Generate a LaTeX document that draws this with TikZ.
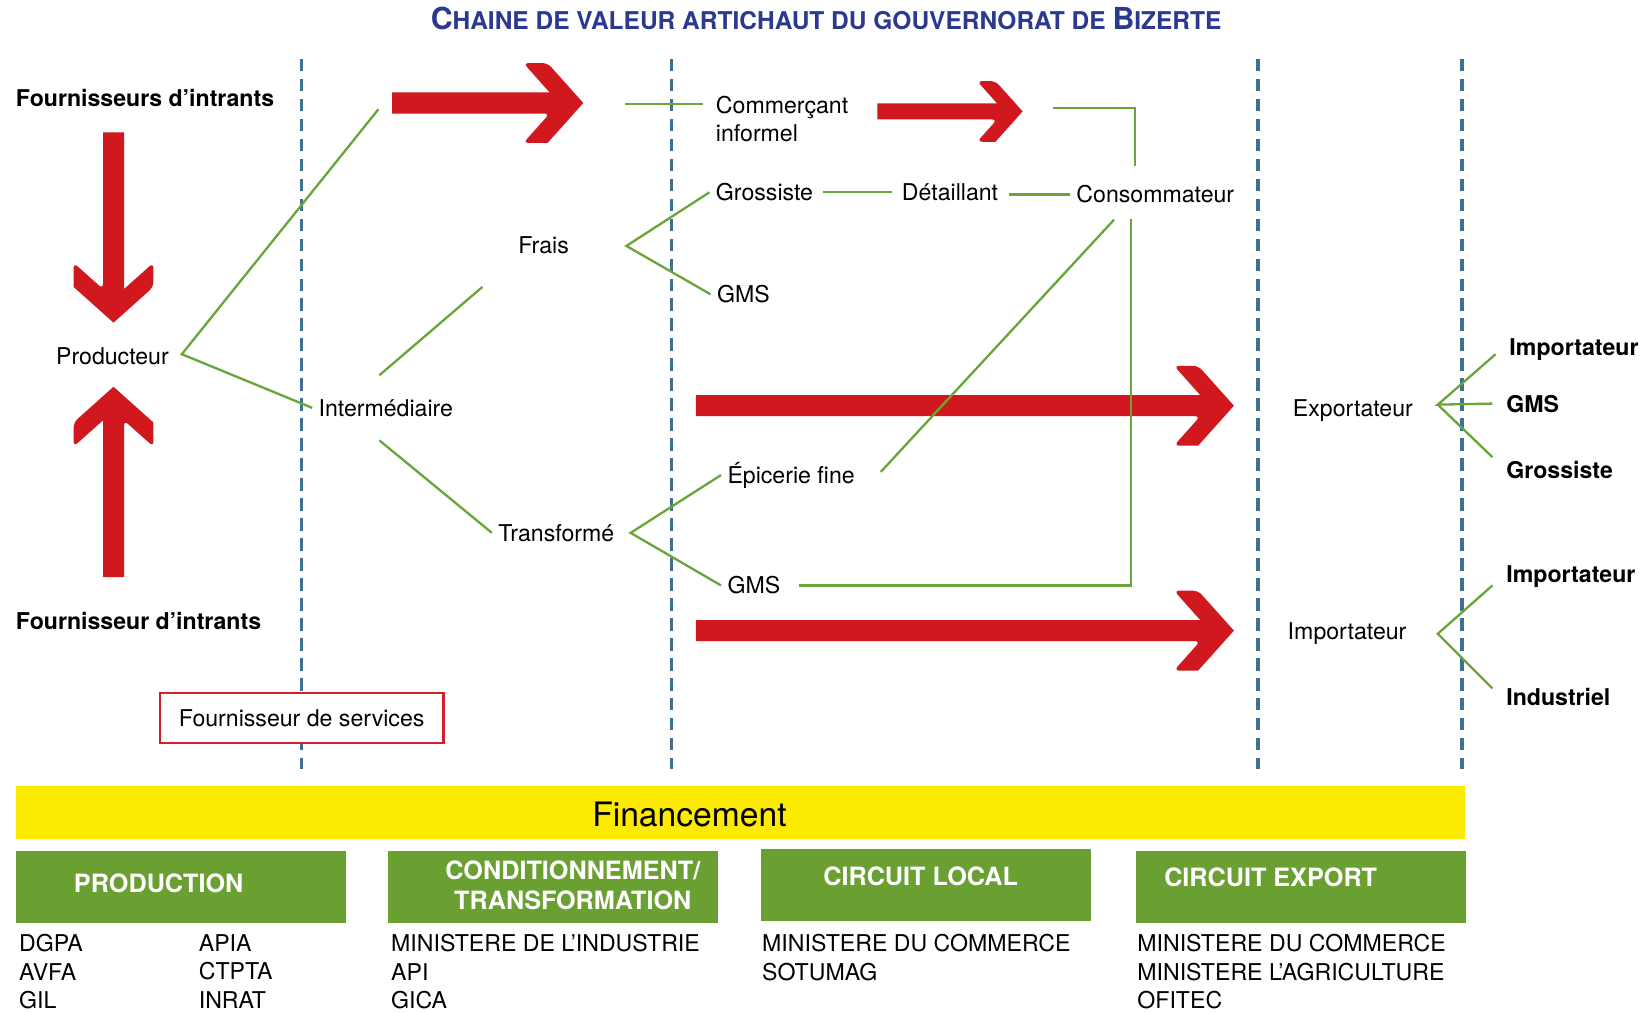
\documentclass[tikz,border=0pt]{standalone}
\usepackage{fontspec}
\setmainfont{TeX Gyre Heros}
\usepackage{graphicx}
\usetikzlibrary{positioning}
\definecolor{arrred}{RGB}{208,24,30}
\definecolor{lngreen}{RGB}{106,165,58}
\definecolor{boxgreen}{RGB}{106,159,50}
\definecolor{finyellow}{RGB}{252,234,0}
\definecolor{sepblue}{RGB}{63,112,144}
\definecolor{ttlblue}{RGB}{43,57,144}
\definecolor{svcred}{RGB}{208,32,46}

\begin{document}
\begin{tikzpicture}[x=1pt, y=-1pt,
	lbl/.style={anchor=west, inner sep=6pt, text height=16pt, text depth=0pt,
		font=\fontsize{22}{27}\selectfont},
	blbl/.style={lbl, inner xsep=13pt, font=\fontsize{22}{27}\selectfont\bfseries},
	grn/.style={draw=lngreen, line width=2.2pt},
	sepline/.style={draw=sepblue, line width=3.4pt, dash pattern=on 12pt off 7pt},
	gbox/.style={fill=boxgreen, minimum width=314pt, minimum height=68pt, inner sep=0pt},
	gtxt/.style={text=white, align=center, inner sep=0pt, font=\fontsize{24}{29}\selectfont\bfseries},
	lst/.style={anchor=north west, align=left, inner sep=0pt,
		font=\fontsize{22}{27}\selectfont},
	pics/redarrow/.style={code={
		\fill[arrred] (-#1,-10) -- (-32,-10) [rounded corners=5pt] -- (-57,-38) -- (-34,-38)
		[sharp corners] -- (0,0) -- (-34,38) [rounded corners=5pt] -- (-57,38) -- (-32,10)
		[sharp corners] -- (-#1,10) -- cycle;}}]
	\useasboundingbox (0,0) rectangle (1568,963);
	% title
	\node[anchor=base, text=ttlblue, font=\bfseries, inner sep=0pt] (title) at (786,28.5)
	{\fontsize{28.8}{30}\selectfont C\fontsize{23.3}{30}\selectfont HAINE DE VALEUR ARTICHAUT DU GOUVERNORAT DE
		\fontsize{28.8}{30}\selectfont B\fontsize{23.3}{30}\selectfont IZERTE};
	% separators
	\draw[sepline] (287,56) -- (287,732);
	\draw[sepline] (639,56) -- (639,732);
	\draw[sepline] (1197,56) -- (1197,732);
	\draw[sepline] (1391,56) -- (1391,732);
	\node[draw=svcred, line width=2pt, fill=white, minimum width=270pt, minimum height=48pt,
		font=\fontsize{22}{27}\selectfont] (serv) at (287,683) {Fournisseur de services};
	% big arrows
	\pic at (555,98) {redarrow=182};
	\pic[scale=0.76] at (973,106) {redarrow=182};
	\pic at (1174,386) {redarrow=512};
	\pic at (1174,600) {redarrow=512};
	\pic[rotate=-90] at (108,307) {redarrow=181};
	\pic[rotate=90] at (108,368) {redarrow=181};
	% labels
	\node[blbl] (fourn1) at (2,93) {Fournisseurs d’intrants};
	\node[blbl] (fourn2) at (2,591) {Fournisseur d’intrants};
	\node[lbl, anchor=center] (prod) at (107,339) {Producteur};
	\node[lbl] (intm) at (297,388) {Intermédiaire};
	\node[lbl] (frais) at (487,233) {Frais};
	\node[lbl, align=left] (comm) at (675,127) {Commerçant\\informel};
	\node[lbl] (gros) at (675,183) {Grossiste};
	\node[lbl] (det) at (852,183) {Détaillant};
	\node[lbl] (cons) at (1018,185) {Consommateur};
	\node[lbl] (gms1) at (676,280) {GMS};
	\node[lbl] (trans) at (468,507) {Transformé};
	\node[lbl] (epi) at (686,452) {Épicerie fine};
	\node[lbl] (gms2) at (686,557) {GMS};
	\node[lbl] (expo) at (1224,388) {Exportateur};
	\node[lbl] (impo) at (1219,600) {Importateur};
	\node[blbl] (rimp1) at (1423,330) {Importateur};
	\node[blbl] (rgms) at (1420,384) {GMS};
	\node[blbl] (rgros) at (1420,447) {Grossiste};
	\node[blbl] (rimp2) at (1420,546) {Importateur};
	\node[blbl] (rind) at (1420,663) {Industriel};
	% links
	\coordinate (pfork) at (173,337);
	\coordinate (topend) at (360,104);
	\coordinate (ifr1) at (361,357);
	\coordinate (ifr2) at (459,273);
	\coordinate (itr1) at (361,419);
	\coordinate (ffork) at (596,234);
	\coordinate (cstart) at (595,99);
	\coordinate (cend) at (669,99);
	\coordinate (tfork) at (600,507);
	\coordinate (c2a) at (1002,103);
	\coordinate (c2c) at (1080,158);
	\coordinate (cons1) at (1060,209);
	\coordinate (cons2) at (1076,208);
	\coordinate (epiend) at (838,449);
	\coordinate (efork) at (1368,385);
	\coordinate (mfork) at (1368,603);
	\draw[grn] (topend) -- (pfork) -- (intm.west);
	\draw[grn] (ifr1) -- (ifr2);
	\draw[grn] (itr1) -- (trans.west);
	\draw[grn] (gros.west) -- (ffork) -- (gms1.west);
	\draw[grn] (cstart) -- (cend);
	\draw[grn, shorten <=3pt, shorten >=3pt] (gros.east) -- (det.west);
	\draw[grn, shorten <=4pt] (cons.west -| det.east) -- (cons.west);
	\draw[grn] (c2a) -| (c2c);
	\draw[grn] (cons1) -- (epiend);
	\draw[grn, shorten >=12pt] (cons2) |- (gms2.east);
	\draw[grn] (epi.west) -- (tfork) -- (gms2.west);
	\draw[grn] ([yshift=-7pt]rimp1.west) -- (efork) -- (rgms.west);
	\draw[grn] (efork) -- ([yshift=12pt]rgros.west);
	\draw[grn] ([yshift=-11pt]rimp2.west) -- (mfork) -- ([yshift=8pt]rind.west);
	% financing and institutions
	\node[fill=finyellow, minimum width=1379pt, minimum height=50pt, inner sep=0pt] (fin) at (704.5,773) {};
	\node[font=\fontsize{32}{36}\selectfont, inner sep=0pt] (fintxt) at (656,775) {Financement};
	\node[gbox] (bprod) at (172,844) {};
	\node[gbox] (bcond) at (526,844) {};
	\node[gbox] (bloc) at (881,842) {};
	\node[gbox] (bexp) at (1237.5,844) {};
	\node[gtxt] (tprod) at (151,840) {PRODUCTION};
	\node[gtxt] (tcond) at (545,842.5) {CONDITIONNEMENT/\\TRANSFORMATION};
	\node[gtxt] (tloc) at (876,834) {CIRCUIT LOCAL};
	\node[gtxt] (texp) at (1209,835) {CIRCUIT EXPORT};
	\node[lst] (l1) at (18,889) {DGPA\\AVFA\\GIL};
	\node[lst] (l2) at (189,889) {APIA\\CTPTA\\INRAT};
	\node[lst] (l3) at (372,889) {MINISTERE DE L’INDUSTRIE\\API\\GICA};
	\node[lst] (l4) at (725,889) {MINISTERE DU COMMERCE\\SOTUMAG};
	\node[lst] (l5) at (1082,889) {MINISTERE DU COMMERCE\\MINISTERE L’AGRICULTURE\\OFITEC};
\end{tikzpicture}
\end{document}
